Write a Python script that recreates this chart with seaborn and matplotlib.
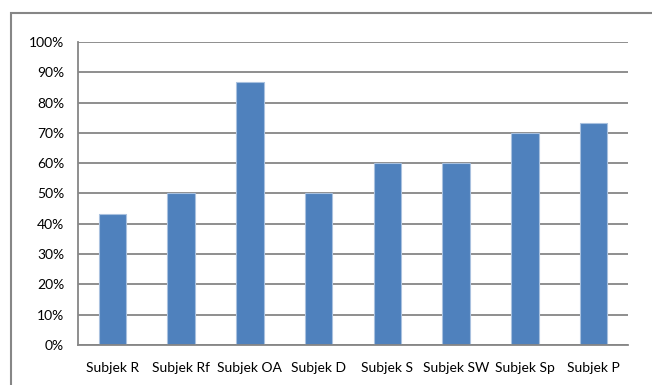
import matplotlib
matplotlib.use("Agg")
import matplotlib.pyplot as plt
import matplotlib.ticker as mticker
from matplotlib.patches import Rectangle
import seaborn as sns
import numpy as np

subjects = ["Subjek R", "Subjek Rf", "Subjek OA", "Subjek D",
            "Subjek S", "Subjek SW", "Subjek Sp", "Subjek P"]
scores = [0.433, 0.50, 0.867, 0.50, 0.60, 0.60, 0.70, 0.733]

sns.set_style("white")
plt.rcParams["font.family"] = ["Lato", "DejaVu Sans"]

grid_col = "#868686"

fig = plt.figure(figsize=(6.52, 3.85), dpi=100)
ax = fig.add_axes([78 / 652, 40 / 385, 550 / 652, 303 / 385])

sns.barplot(x=subjects, y=scores, order=subjects, color="#4f81bd",
            saturation=1, width=0.4, edgecolor="#a9c1df", linewidth=0.8, ax=ax)

ax.set_ylim(0, 1)
ax.set_xlim(-0.5, len(subjects) - 0.5)
ax.yaxis.set_major_locator(mticker.MultipleLocator(0.1))
ax.yaxis.set_major_formatter(mticker.PercentFormatter(1.0, decimals=0))
ax.set_axisbelow(True)
ax.grid(axis="y", color=grid_col, linewidth=1.3)
ax.grid(axis="x", visible=False)

ax.xaxis.set_minor_locator(mticker.FixedLocator(np.arange(-0.5, len(subjects), 1.0)))
ax.tick_params(axis="x", which="major", length=0, labelsize=10, pad=12, colors="black")
ax.tick_params(axis="x", which="minor", length=4, width=1.2, color=grid_col, direction="out")
ax.tick_params(axis="y", length=4, width=1.2, color=grid_col, direction="out",
               labelsize=10, pad=6)
for lbl in ax.get_xticklabels() + ax.get_yticklabels():
    lbl.set_color("black")

for side in ["top", "right"]:
    ax.spines[side].set_visible(False)
for side in ["left", "bottom"]:
    ax.spines[side].set_color(grid_col)
    ax.spines[side].set_linewidth(1.3)
ax.set_xlabel("")
ax.set_ylabel("")

# chart frame (cut off at right and bottom in the reference)
fig.patches.append(Rectangle((11 / 652, -0.2), 1.2, 1.2 - 13 / 385,
                             transform=fig.transFigure, fill=False,
                             edgecolor=grid_col, linewidth=1.5))

fig.savefig("out.png", dpi=100)
